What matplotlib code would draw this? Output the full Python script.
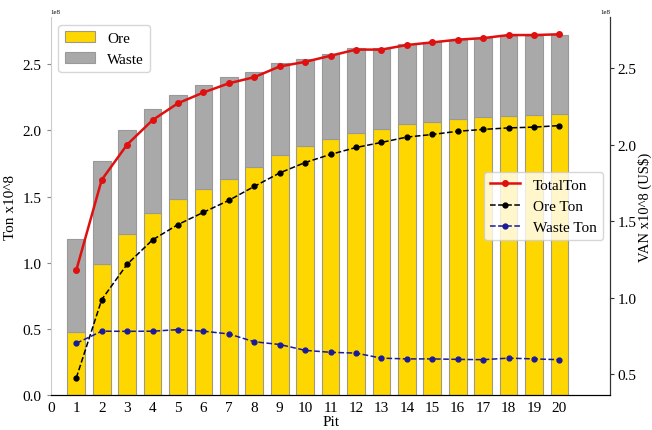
import matplotlib.pyplot as plt
import numpy as np

# tonnage per pit, in units of 1e8 t
pits = list(range(1, 21))
total_ton = [1.18, 1.77, 2.00, 2.16, 2.27, 2.34, 2.40, 2.44, 2.51, 2.54,
             2.58, 2.62, 2.62, 2.65, 2.667, 2.685, 2.695, 2.715, 2.715, 2.72]
ore_ton = [0.477, 0.988, 1.219, 1.378, 1.478, 1.558, 1.636, 1.727, 1.815, 1.883,
           1.936, 1.981, 2.014, 2.049, 2.066, 2.087, 2.099, 2.109, 2.114, 2.124]
scale = 1e8

total = np.array(total_ton) * scale
ore = np.array(ore_ton) * scale
waste = total - ore

plt.rcParams['font.family'] = ['Liberation Serif', 'DejaVu Serif']
plt.rcParams['font.size'] = 11

fig, ax = plt.subplots(figsize=(6.52, 4.31), dpi=100)
fig.subplots_adjust(left=0.078, right=0.936, top=0.958, bottom=0.081)

# stacked bars on the left axis
ax.bar(pits, ore, width=0.7, color='#FFD700', edgecolor='#a09a80', linewidth=0.8, label='Ore')
ax.bar(pits, waste, bottom=ore, width=0.7, color='#A9A9A9', edgecolor='#999999', linewidth=0.8, label='Waste')
ax.set_xlim(0, 22)
ax.set_xticks(range(0, 21))
ax.set_xlabel('Pit', labelpad=1)
ax.set_ylabel('Ton x10^8')
ax.legend(loc='upper left')
ax.yaxis.get_offset_text().set_fontsize(5)

# cumulative lines on the right axis
ax2 = ax.twinx()
ax2.plot(pits, total, color='#e01010', linewidth=1.8, marker='o', markersize=4, label='TotalTon')
ax2.plot(pits, ore, color='black', linestyle='--', linewidth=1.1, marker='o', markersize=3.5, label='Ore Ton')
ax2.plot(pits, waste, color='#1a1a9a', linestyle='--', linewidth=1.1, marker='o', markersize=3.5, label='Waste Ton')
ax2.set_ylabel(r'VAN x10^8 (US\$)', labelpad=1, fontsize=10.5)
ax2.legend(loc='center right')
ax2.yaxis.get_offset_text().set_fontsize(5)

for a in (ax, ax2):
    a.spines['top'].set_visible(False)
ax.spines['left'].set_color('#cccccc')
ax2.spines['left'].set_visible(False)
ax2.spines['right'].set_color('#333333')
ax.tick_params(axis='y', length=3, color='#888888')
ax2.tick_params(axis='y', length=3, pad=2, color='#333333')
ax.tick_params(axis='x', length=0, pad=4)

plt.savefig('out.png', dpi=100)
